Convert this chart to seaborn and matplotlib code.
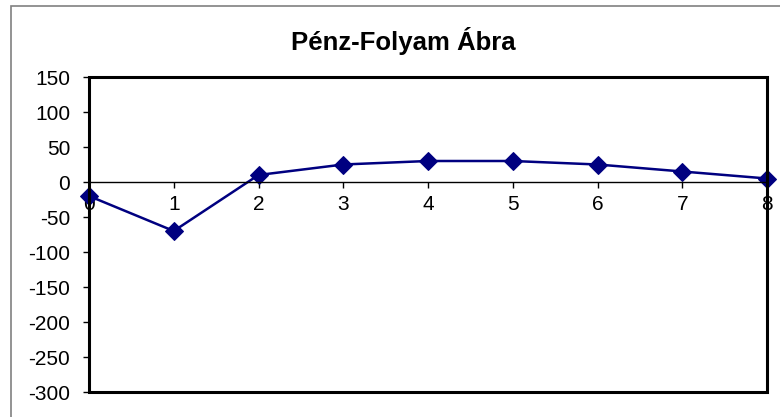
import matplotlib
matplotlib.use("Agg")
import matplotlib.pyplot as plt
import matplotlib.patches as mpatches
import seaborn as sns
import pandas as pd

# data
periods = [0, 1, 2, 3, 4, 5, 6, 7, 8]
cash_flow = [-20, -70, 10, 25, 30, 30, 25, 15, 5]
y_ticks = [150, 100, 50, 0, -50, -100, -150, -200, -250, -300]
title = "Pénz-Folyam Ábra"

sns.set_style("white")
plt.rcParams["font.family"] = ["Liberation Sans", "DejaVu Sans"]
plt.rcParams["axes.unicode_minus"] = False
plt.rcParams["text.color"] = "black"
plt.rcParams["xtick.color"] = "black"
plt.rcParams["ytick.color"] = "black"

df = pd.DataFrame({"period": periods, "value": cash_flow})

fig = plt.figure(figsize=(7.8, 4.17), dpi=100)

# outer chart-area border (grey)
fig.patches.append(mpatches.Rectangle(
    (11 / 780, -0.05), 1.05, 1 - 6 / 417 + 0.05, transform=fig.transFigure,
    fill=False, edgecolor="#808080", linewidth=1.2))

ax = fig.add_axes([89 / 780, 1 - 392 / 417, (767 - 89) / 780, (392 - 77) / 417])

sns.lineplot(data=df, x="period", y="value", ax=ax, color="#000080",
             marker="D", markersize=9, markeredgecolor="#000080",
             linewidth=1.8, clip_on=False)

ax.set_xlim(0, 8)
ax.set_ylim(-300, 150)
ax.set_yticks(y_ticks)
ax.set_xticks(periods)
ax.set_xlabel("")
ax.set_ylabel("")

# x axis crosses at zero, box drawn separately
for s in ["top", "right", "left"]:
    ax.spines[s].set_visible(False)
ax.spines["bottom"].set_position(("data", 0))
ax.spines["bottom"].set_linewidth(1.0)
ax.spines["bottom"].set_color("black")
ax.add_patch(mpatches.Rectangle((0, 0), 1, 1, transform=ax.transAxes,
                                fill=False, edgecolor="black", linewidth=2.2,
                                clip_on=False, zorder=5))

ax.tick_params(axis="x", direction="out", length=4.5, width=1,
               labelsize=15, pad=5, bottom=True)
ax.tick_params(axis="y", direction="out", length=4.5, width=1,
               labelsize=15, pad=9, left=True)

fig.text(403 / 780, 1 - 41 / 417, title, ha="center", va="center",
         fontsize=18.5, fontweight="bold")

fig.savefig("out.png", dpi=100)
